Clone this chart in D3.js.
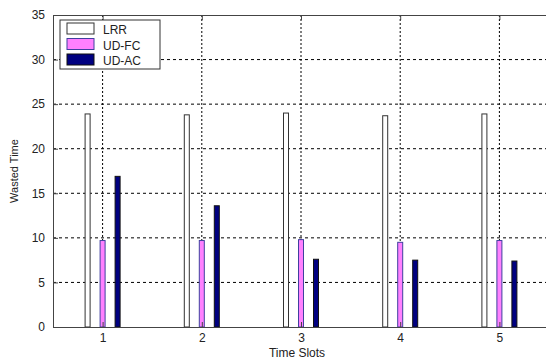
<!DOCTYPE html>
<html>
<head>
<meta charset="utf-8">
<script src="https://cdn.jsdelivr.net/npm/d3@7"></script>
<style>
  body { margin: 0; background: #fff; }
  text { font-family: "Liberation Sans", Arial, sans-serif; fill: #222; }
</style>
</head>
<body>
<svg width="546" height="360"></svg>
<script>
// Chart data
var slots = [1, 2, 3, 4, 5];
var seriesNames = ["LRR", "UD-FC", "UD-AC"];
var lrr = [23.9, 23.8, 24.0, 23.7, 23.9];
var udfc = [9.7, 9.7, 9.8, 9.5, 9.7];
var udac = [16.9, 13.6, 7.6, 7.5, 7.4];
var yTicks = [0, 5, 10, 15, 20, 25, 30, 35];

var seriesValues = [lrr, udfc, udac];
var fills = ["#ffffff", "#ff80ff", "#000080"];
var strokes = ["#333333", "#4040a0", "#111111"];
var offsets = [-15, 0, 15]; // bar offset from slot centre, in px

var svg = d3.select("svg"),
  margin = { top: 15, right: -3, bottom: 33, left: 53 },
  width = +svg.attr("width") - margin.left - margin.right,
  height = +svg.attr("height") - margin.top - margin.bottom;

var g = svg.append("g")
  .attr("transform", "translate(" + margin.left + "," + margin.top + ")");

var x = d3.scaleLinear().domain([0.5, 5.5]).range([0, width]);
var y = d3.scaleLinear().domain([0, 35]).range([height, 0]);

// horizontal dashed grid
g.append("g")
  .selectAll("line")
  .data(yTicks.slice(1, -1))
  .enter()
  .append("line")
  .attr("x1", 0).attr("x2", width)
  .attr("y1", (d) => y(d)).attr("y2", (d) => y(d))
  .attr("stroke", "#000")
  .attr("stroke-dasharray", "3,3");

// vertical dotted grid
g.append("g")
  .selectAll("line")
  .data(slots)
  .enter()
  .append("line")
  .attr("x1", (d) => x(d)).attr("x2", (d) => x(d))
  .attr("y1", 0).attr("y2", height)
  .attr("stroke", "#000")
  .attr("stroke-dasharray", "2,2");

// bars
var barW = 5;
seriesValues.forEach(function (vals, s) {
  g.append("g")
    .selectAll("rect")
    .data(vals)
    .enter()
    .append("rect")
    .attr("x", (d, i) => x(slots[i]) + offsets[s] - barW / 2)
    .attr("y", (d) => y(d))
    .attr("width", barW)
    .attr("height", (d) => height - y(d))
    .attr("fill", fills[s])
    .attr("stroke", strokes[s])
    .attr("stroke-width", 1);
});

// axes (MATLAB style, ticks inward)
var axisColor = "#444";
var yAxis = g.append("g")
  .call(d3.axisLeft(y).tickValues(yTicks).tickSize(-5).tickPadding(8));
var xAxis = g.append("g")
  .attr("transform", "translate(0," + height + ")")
  .call(d3.axisBottom(x).tickValues(slots).tickFormat(d3.format("d")).tickSize(-5).tickPadding(6));
var topAxis = g.append("g")
  .call(d3.axisTop(x).tickValues(slots).tickSize(-5).tickFormat(""));
[yAxis, xAxis, topAxis].forEach(function (a) {
  a.select(".domain").attr("stroke", axisColor);
  a.selectAll(".tick line").attr("stroke", axisColor);
  a.selectAll("text").style("font-size", "12px").attr("fill", "#222");
});

// axis titles
svg.append("text")
  .attr("x", 297)
  .attr("y", 357)
  .attr("text-anchor", "middle")
  .style("font-size", "12px")
  .text("Time Slots");

svg.append("text")
  .attr("transform", "translate(18," + (margin.top + height / 2) + ") rotate(-90)")
  .attr("text-anchor", "middle")
  .style("font-size", "11px")
  .text("Wasted Time");

// legend
var legend = svg.append("g").attr("transform", "translate(60,20)");
legend.append("rect")
  .attr("width", 100).attr("height", 49)
  .attr("fill", "#fff").attr("stroke", "#333");
seriesNames.forEach(function (name, i) {
  legend.append("rect")
    .attr("x", 7).attr("y", 3 + i * 15.5)
    .attr("width", 27).attr("height", 11)
    .attr("fill", fills[i]).attr("stroke", strokes[i]);
  legend.append("text")
    .attr("x", 43).attr("y", 14 + i * 15.5)
    .style("font-size", "12px")
    .text(name);
});
</script>
</body>
</html>
